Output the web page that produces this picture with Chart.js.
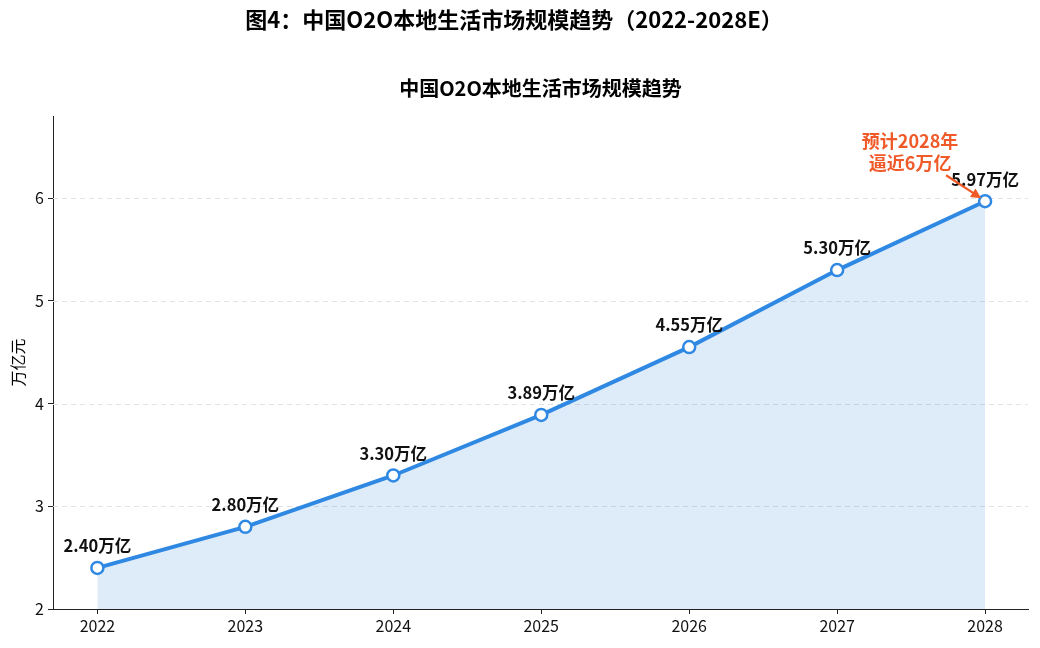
<!DOCTYPE html>
<html>
<head>
<meta charset="utf-8">
<script src="https://cdn.jsdelivr.net/npm/chart.js@4/dist/chart.umd.min.js"></script>
<style>
html,body{margin:0;padding:0;background:#fff;}
#wrap{width:1040px;height:648px;position:relative;}
</style>
</head>
<body>
<div id="wrap"><canvas id="c" width="1040" height="648"></canvas></div>
<script>
const years = ['2022','2023','2024','2025','2026','2027','2028'];
const values = [2.40, 2.80, 3.30, 3.89, 4.55, 5.30, 5.97];
const valueLabels = ['2.40万亿','2.80万亿','3.30万亿','3.89万亿','4.55万亿','5.30万亿','5.97万亿'];
const yTicks = [2, 3, 4, 5, 6];
const suptitle = '图4：中国O2O本地生活市场规模趋势（2022-2028E）';
const subtitle = '中国O2O本地生活市场规模趋势';
const yTitle = '万亿元';
const noteLines = ['预计2028年', '逼近6万亿'];

const FONT = '"Noto Sans CJK SC", "Noto Sans", sans-serif';
const BLUE = '#2f89e3';
const ORANGE = '#f05a28';

const overlay = {
  id: 'overlay',
  beforeDatasetsDraw(chart) {
    const ctx = chart.ctx, y = chart.scales.y, a = chart.chartArea;
    ctx.save();
    ctx.strokeStyle = '#e2e2e2';
    ctx.lineWidth = 1;
    ctx.setLineDash([5, 4]);
    yTicks.forEach(v => {
      if (v === y.min) return;
      const py = Math.round(y.getPixelForValue(v)) + 0.5;
      ctx.beginPath(); ctx.moveTo(a.left, py); ctx.lineTo(a.right, py); ctx.stroke();
    });
    ctx.restore();
  },
  afterDraw(chart) {
    const ctx = chart.ctx, a = chart.chartArea;
    const xs = chart.scales.x, ys = chart.scales.y;
    ctx.save();
    ctx.fillStyle = '#000';
    ctx.textAlign = 'center';
    ctx.textBaseline = 'middle';
    ctx.font = 'bold 22px ' + FONT;
    ctx.fillText(suptitle, 514, 20);
    ctx.font = 'bold 20px ' + FONT;
    ctx.fillText(subtitle, (a.left + a.right) / 2, 88);
    // y title
    ctx.font = '16px ' + FONT;
    ctx.translate(18, (a.top + a.bottom) / 2);
    ctx.rotate(-Math.PI / 2);
    ctx.fillText(yTitle, 0, 0);
    ctx.setTransform(chart.currentDevicePixelRatio, 0, 0, chart.currentDevicePixelRatio, 0, 0);
    // value labels
    ctx.font = 'bold 16.5px ' + FONT;
    ctx.fillStyle = '#111';
    values.forEach((v, i) => {
      const px = xs.getPixelForValue(i), py = ys.getPixelForValue(v);
      ctx.fillText(valueLabels[i], px, py - 22);
    });
    // annotation
    const last = values.length - 1;
    const tx = xs.getPixelForValue(last), ty = ys.getPixelForValue(values[last]);
    ctx.fillStyle = ORANGE;
    ctx.font = 'bold 18px ' + FONT;
    ctx.fillText(noteLines[0], tx - 75, ty - 60);
    ctx.fillText(noteLines[1], tx - 75, ty - 38);
    const sx = tx - 39, sy = ty - 26, ex = tx - 4, ey = ty - 3;
    ctx.strokeStyle = ORANGE;
    ctx.lineWidth = 2.2;
    const ang = Math.atan2(ey - sy, ex - sx);
    ctx.beginPath(); ctx.moveTo(sx, sy); ctx.lineTo(ex - 6 * Math.cos(ang), ey - 6 * Math.sin(ang)); ctx.stroke();
    ctx.beginPath();
    ctx.moveTo(ex, ey);
    ctx.lineTo(ex - 10 * Math.cos(ang) + 5 * Math.sin(ang), ey - 10 * Math.sin(ang) - 5 * Math.cos(ang));
    ctx.lineTo(ex - 10 * Math.cos(ang) - 5 * Math.sin(ang), ey - 10 * Math.sin(ang) + 5 * Math.cos(ang));
    ctx.closePath(); ctx.fill();
    ctx.restore();
  }
};

new Chart(document.getElementById('c'), {
  type: 'line',
  data: {
    datasets: [{
      data: values.map((v, i) => ({x: i, y: v})),
      borderColor: BLUE,
      borderWidth: 4,
      backgroundColor: 'rgba(47,137,227,0.16)',
      fill: 'start',
      tension: 0,
      pointRadius: 6,
      pointHoverRadius: 6,
      pointBackgroundColor: '#fff',
      pointBorderColor: BLUE,
      pointBorderWidth: 2.5
    }]
  },
  options: {
    responsive: false,
    animation: false,
    devicePixelRatio: 1,
    layout: {padding: {top: 116, right: 12, left: 0, bottom: 0}},
    plugins: {legend: {display: false}, tooltip: {enabled: false}},
    scales: {
      x: {
        type: 'linear',
        min: -0.3, max: 6.29,
        afterBuildTicks: s => { s.ticks = years.map((_, i) => ({value: i})); },
        afterFit: s => { s.height = 39; },
        ticks: {
          callback: v => years[v],
          color: '#111', font: {family: FONT, size: 16}, padding: 2, maxRotation: 0
        },
        grid: {display: true, drawOnChartArea: false, tickLength: 5, tickColor: '#222', tickWidth: 1},
        border: {display: true, color: '#222', width: 1}
      },
      y: {
        min: 2, max: 6.8,
        afterBuildTicks: s => { s.ticks = yTicks.map(v => ({value: v})); },
        afterFit: s => { s.width = 53; },
        ticks: {color: '#111', font: {family: FONT, size: 16}, padding: 4},
        grid: {display: true, drawOnChartArea: false, tickLength: 5, tickColor: '#222', tickWidth: 1},
        border: {display: true, color: '#222', width: 1}
      }
    }
  },
  plugins: [overlay]
});
</script>
</body>
</html>
